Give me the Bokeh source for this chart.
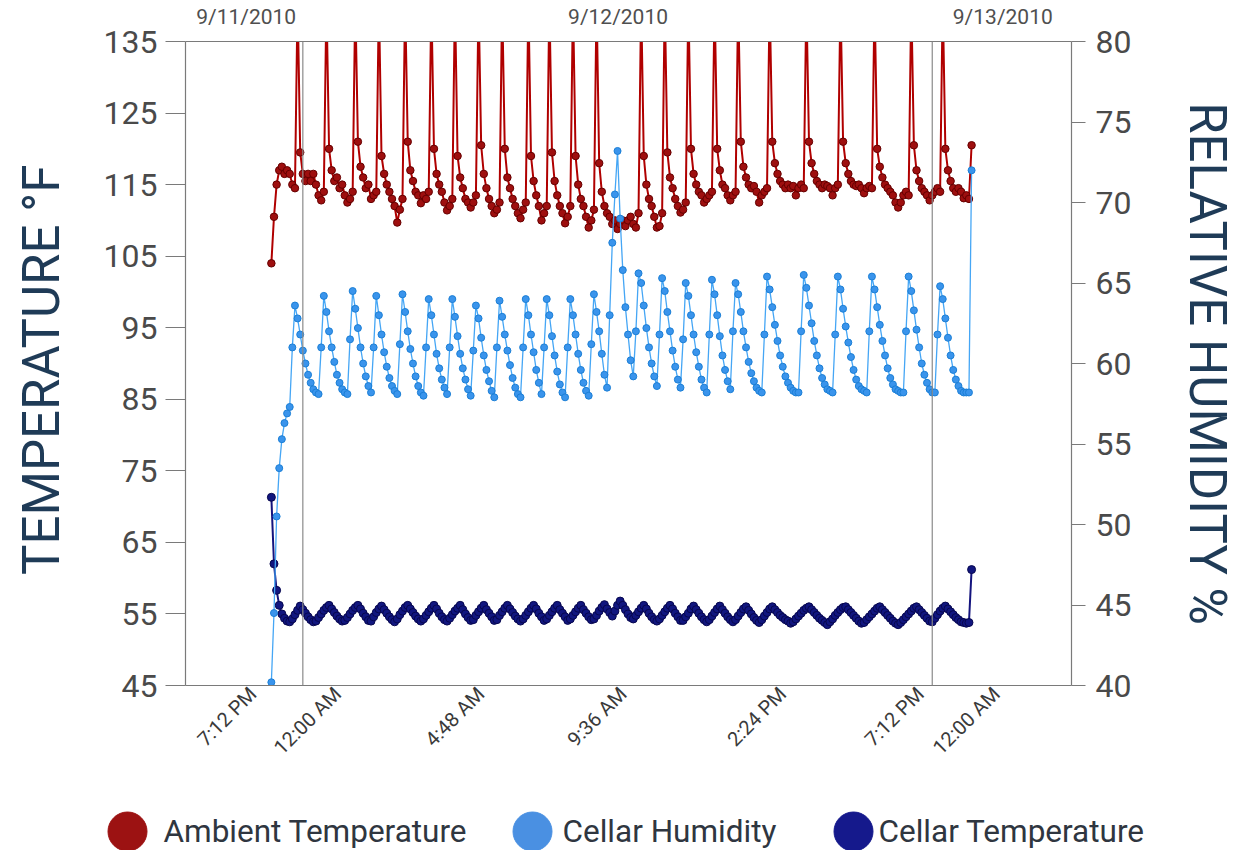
from math import pi

from bokeh.core.properties import value
from bokeh.embed import file_html
from bokeh.models import FixedTicker, LinearAxis, Range1d, Span
from bokeh.plotting import figure
from bokeh.resources import INLINE

# ---------------------------------------------------------------- data
# logger readings, hours relative to 12:00 AM on 9/12/2010, one every 6 min
START_HOUR = -1.2
STEP_HOURS = 0.1

ambient_temp = [
    104.0, 110.5, 115.0, 117.0, 117.5, 116.5, 117.0, 116.5, 115.0, 114.5,
    141, 119.5, 116.5, 115.5, 116.5, 115.5, 116.5, 115.0, 113.5, 112.8, 114.0,
    141, 120.0, 117.0, 115.5, 116.0, 114.5, 115.0, 113.5, 112.5, 113.0, 114.0,
    141, 121.0, 117.5, 116.0, 114.5, 115.0, 113.0, 113.5, 114.0,
    141, 119.0, 116.5, 115.0, 114.0, 113.0, 112.0, 109.7, 111.5, 113.0,
    141, 121.0, 117.0, 115.5, 114.0, 113.5, 112.4, 113.5, 113.0, 114.0,
    141, 120.0, 116.5, 115.0, 114.0, 112.5, 111.4, 112.0, 113.0,
    141, 119.0, 116.0, 114.5, 113.0, 112.5, 111.8, 112.5, 113.5,
    141, 120.5, 116.5, 114.5, 113.0, 112.0, 111.0, 111.5, 112.5,
    141, 120.0, 116.0, 114.5, 113.0, 112.0, 111.0, 110.3, 111.5, 112.5,
    141, 119.0, 115.5, 113.5, 112.0, 110.0, 111.0, 112.0,
    141, 119.5, 115.5, 113.5, 112.0, 111.0, 109.6, 110.5, 112.0,
    141, 119.0, 115.0, 113.0, 112.0, 110.5, 109.0, 110.0, 111.5,
    141, 118.0, 114.0, 112.0, 111.0, 110.5, 109.5, 110.0, 108.8, 109.5, 110.0,
    109.2, 110.0, 110.5, 109.5, 109.0, 111.0,
    141, 119.0, 115.0, 113.0, 112.0, 110.5, 109.0, 109.2, 111.0,
    141, 119.5, 116.0, 114.5, 113.0, 112.0, 111.1, 111.5, 112.5,
    141, 120.0, 116.5, 115.0, 114.0, 113.5, 112.5, 113.0, 113.5, 114.0,
    141, 120.0, 117.0, 115.0, 114.5, 113.5, 112.8, 113.5, 114.0,
    141, 121.0, 117.5, 116.0, 115.0, 114.5, 114.8, 114.0, 112.5, 113.5, 114.0, 114.5,
    141, 121.0, 118.0, 116.5, 115.5, 115.0, 114.5, 115.0, 114.5, 114.8, 113.5, 114.5,
    115.0, 114.5,
    141, 121.0, 118.0, 116.5, 115.5, 115.0, 114.5, 115.0, 114.8, 114.5, 113.5, 114.5,
    115.0,
    141, 121.0, 118.0, 116.5, 115.5, 115.0, 114.8, 115.0, 114.5, 113.8, 114.5, 114.8,
    114.5,
    141, 120.0, 117.5, 116.0, 115.0, 114.5, 114.0, 113.5, 112.5, 111.8, 112.5, 113.5,
    114.0, 113.5,
    141, 120.5, 117.0, 115.5, 114.5, 114.0, 113.5, 112.8, 113.5, 114.0, 114.5, 114.0,
    141, 120.0, 117.0, 115.5, 114.5, 114.0, 114.5, 114.0, 113.1, 113.5, 113.0, 120.5,
]

cellar_humidity = [
    40.2, 44.5, 50.5, 53.5, 55.3, 56.3, 56.9, 57.3,
    61.0, 63.6, 62.8, 61.8, 60.8, 60.0, 59.3, 58.8, 58.4, 58.2, 58.1,
    61.0, 64.2, 63.2, 62.0, 61.0, 60.1, 59.3, 58.8, 58.4, 58.2, 58.1,
    61.5, 64.5, 63.4, 62.2, 61.0, 60.0, 59.2, 58.6, 58.2,
    61.0, 64.2, 63.0, 61.8, 60.7, 59.8, 59.1, 58.6, 58.3, 58.1,
    61.2, 64.3, 63.2, 62.0, 60.9, 60.0, 59.2, 58.6, 58.2, 58.0,
    61.0, 64.0, 63.0, 61.8, 60.6, 59.7, 59.0, 58.5, 58.1,
    61.0, 64.0, 62.9, 61.7, 60.6, 59.7, 59.0, 58.4, 58.0,
    60.8, 63.6, 62.8, 61.6, 60.5, 59.6, 58.9, 58.3, 57.9,
    61.0, 63.9, 62.9, 61.8, 60.8, 59.9, 59.1, 58.5, 58.1, 57.9,
    61.0, 64.0, 63.0, 61.8, 60.7, 59.6, 58.8, 58.1,
    61.0, 64.0, 63.0, 61.7, 60.5, 59.5, 58.7, 58.2, 57.9,
    61.0, 64.0, 63.0, 61.8, 60.6, 59.6, 58.8, 58.3, 58.0,
    61.2, 64.3, 63.2, 62.0, 60.6, 59.3, 58.5, 63.0, 67.5, 70.5, 73.2, 69.0, 65.8,
    63.5, 61.8, 60.2, 59.2,
    62.0, 65.6, 65.0, 63.6, 62.2, 61.0, 60.0, 59.2, 58.6,
    61.8, 65.3, 64.5, 63.2, 62.0, 60.8, 59.8, 59.0, 58.5,
    61.5, 65.0, 64.2, 63.0, 61.8, 60.7, 59.8, 59.0, 58.5, 58.2,
    61.8, 65.2, 64.3, 63.0, 61.7, 60.5, 59.6, 58.9, 58.4,
    62.0, 65.0, 64.3, 63.2, 62.0, 61.0, 60.1, 59.4, 58.9, 58.5, 58.3, 58.2,
    61.8, 65.4, 64.6, 63.5, 62.4, 61.4, 60.5, 59.8, 59.2, 58.8, 58.5, 58.3, 58.2, 58.2,
    62.0, 65.5, 64.7, 63.6, 62.5, 61.4, 60.5, 59.7, 59.1, 58.7, 58.4, 58.3, 58.2,
    61.8, 65.4, 64.6, 63.4, 62.3, 61.3, 60.4, 59.6, 59.0, 58.6, 58.4, 58.3, 58.2,
    62.0, 65.4, 64.6, 63.5, 62.4, 61.4, 60.5, 59.7, 59.1, 58.7, 58.4, 58.3, 58.2, 58.2,
    62.0, 65.4, 64.5, 63.3, 62.1, 61.0, 60.0, 59.3, 58.8, 58.4, 58.2, 58.2,
    61.8, 64.8, 64.0, 62.8, 61.6, 60.5, 59.6, 59.0, 58.6, 58.3, 58.2, 58.2, 58.2, 72.0,
]

cellar_temp = [
    71.3, 62.0, 58.3, 56.2, 55.0, 54.4, 54.0, 53.9, 54.3, 54.9,
    55.5, 56.1, 55.6, 55.1, 54.6, 54.2, 53.9, 54.0, 54.5, 55.0,
    55.5, 55.9, 56.2, 55.7, 55.2, 54.7, 54.3, 54.0, 54.1, 54.5,
    55.0, 55.5, 55.9, 56.2, 55.7, 55.1, 54.6, 54.1, 54.0, 54.6,
    55.2, 55.7, 56.1, 55.6, 55.1, 54.6, 54.2, 53.9, 54.3, 54.9,
    55.4, 55.9, 56.2, 55.7, 55.2, 54.7, 54.3, 54.0, 54.3, 54.8,
    55.3, 55.8, 56.2, 55.7, 55.1, 54.6, 54.2, 54.0, 54.4, 54.9,
    55.4, 55.8, 56.2, 55.6, 55.0, 54.5, 54.1, 54.2, 54.8, 55.3,
    55.8, 56.2, 55.6, 55.1, 54.6, 54.1, 54.2, 54.8, 55.3, 55.8,
    56.2, 55.7, 55.2, 54.7, 54.3, 54.0, 54.3, 54.8, 55.3, 55.8,
    56.2, 55.7, 55.1, 54.6, 54.1, 54.3, 54.8, 55.3, 55.8, 56.2,
    55.6, 55.1, 54.6, 54.1, 54.3, 54.8, 55.3, 55.8, 56.2, 55.6,
    55.1, 54.6, 54.2, 54.3, 54.8, 55.4, 55.9, 56.3, 55.7, 55.2,
    54.7, 55.4, 56.2, 56.8, 56.2, 55.6, 55.0, 54.5, 54.3, 54.8,
    55.3, 55.8, 56.2, 55.7, 55.1, 54.6, 54.2, 54.0, 54.3, 54.8,
    55.3, 55.8, 56.2, 55.7, 55.1, 54.6, 54.1, 54.1, 54.6, 55.1,
    55.7, 56.1, 55.6, 55.1, 54.6, 54.2, 53.9, 54.2, 54.7, 55.2,
    55.7, 56.1, 55.6, 55.1, 54.6, 54.2, 53.9, 54.2, 54.7, 55.2,
    55.7, 56.0, 55.5, 55.0, 54.5, 54.1, 53.8, 54.2, 54.7, 55.2,
    55.7, 56.0, 55.6, 55.2, 54.8, 54.5, 54.2, 54.0, 53.7, 53.9,
    54.3, 54.7, 55.1, 55.5, 55.8, 56.0, 55.6, 55.2, 54.8, 54.4,
    54.1, 53.8, 53.5, 53.9, 54.3, 54.8, 55.2, 55.6, 55.9, 56.0,
    55.6, 55.2, 54.8, 54.4, 54.0, 53.7, 53.8, 54.2, 54.6, 55.0,
    55.4, 55.8, 56.0, 55.6, 55.2, 54.8, 54.4, 54.0, 53.7, 53.5,
    53.8, 54.2, 54.6, 55.0, 55.4, 55.8, 56.0, 55.6, 55.2, 54.8,
    54.4, 54.0, 53.9, 54.4, 54.9, 55.4, 55.8, 56.1, 55.7, 55.3,
    54.9, 54.5, 54.2, 53.9, 53.8, 53.7, 53.8, 61.2,
]

series_names = ["Ambient Temperature", "Cellar Humidity", "Cellar Temperature"]
legend_colors = ["#9c1212", "#4a90e2", "#15198c"]

temp_ticks = [45, 55, 65, 75, 85, 95, 105, 115, 125, 135]
humidity_ticks = [40, 45, 50, 55, 60, 65, 70, 75, 80]

time_tick_hours = [-1.9, 1.33, 6.79, 12.21, 18.3, 23.55, 26.45]
time_tick_labels = ["7:12 PM", "12:00 AM", "4:48 AM", "9:36 AM", "2:24 PM",
                    "7:12 PM", "12:00 AM"]
date_tick_hours = [-2.16, 12.02, 26.69]
date_tick_labels = ["9/11/2010", "9/12/2010", "9/13/2010"]
day_boundaries = [0, 24]

# legend strip layout, in pixels of the strip
legend_swatch_x = [127, 532, 853]
legend_text_x = [163, 562, 878]
LEGEND_Y = 19

# ---------------------------------------------------------------- figure
W, H = 1240, 772
p = figure(width=W, height=H, output_backend="svg", toolbar_location=None,
           x_range=Range1d(-4.474, 29.31), y_range=Range1d(45, 135),
           x_axis_location=None, y_axis_location=None,
           min_border_left=185, min_border_right=W - 1076,
           min_border_top=41, min_border_bottom=H - 685)
p.extra_y_ranges = {"hum": Range1d(40, 80)}
p.outline_line_color = None
p.background_fill_color = "white"
p.border_fill_color = "white"
p.grid.visible = False

AXIS_GREY = "#7a7a7a"
FONT = "Roboto"

left = LinearAxis(ticker=FixedTicker(ticks=temp_ticks),
                  axis_label="TEMPERATURE  °F")
right = LinearAxis(y_range_name="hum", ticker=FixedTicker(ticks=humidity_ticks),
                   axis_label="RELATIVE HUMIDITY %")
for ax, tick_out, standoff, title_standoff in ((left, 20, 8, 30), (right, 14, 10, 44)):
    ax.axis_line_color = AXIS_GREY
    ax.axis_line_width = 1.2
    ax.major_tick_line_color = AXIS_GREY
    ax.major_tick_line_width = 1.2
    ax.major_tick_out = tick_out
    ax.major_tick_in = 0
    ax.minor_tick_line_color = None
    ax.major_label_standoff = standoff
    ax.major_label_text_font = FONT
    ax.major_label_text_font_size = "32px"
    ax.major_label_text_color = "#4a4a4a"
    ax.axis_label_text_font = FONT
    ax.axis_label_text_font_size = "51px"
    ax.axis_label_text_font_style = "normal"
    ax.axis_label_text_color = "#1f3b57"
    ax.axis_label_standoff = title_standoff
p.add_layout(left, "left")
p.add_layout(right, "right")

bottom = LinearAxis(ticker=FixedTicker(ticks=time_tick_hours),
                    major_label_overrides=dict(zip(time_tick_hours, time_tick_labels)))
bottom.axis_line_color = AXIS_GREY
bottom.axis_line_width = 1.2
bottom.major_tick_line_color = None
bottom.major_tick_out = 0
bottom.major_tick_in = 0
bottom.minor_tick_line_color = None
bottom.minor_tick_out = 0
bottom.major_label_orientation = pi / 4
bottom.major_label_standoff = 5
bottom.major_label_text_font = FONT
bottom.major_label_text_font_size = "20px"
bottom.major_label_text_color = "#3a3a3a"
p.add_layout(bottom, "below")

top = LinearAxis(ticker=FixedTicker(ticks=date_tick_hours),
                 major_label_overrides=dict(zip(date_tick_hours, date_tick_labels)))
top.axis_line_color = AXIS_GREY
top.axis_line_width = 1.2
top.major_tick_line_color = None
top.minor_tick_line_color = None
top.major_label_standoff = 7
top.major_label_text_font = FONT
top.major_label_text_font_size = "21px"
top.major_label_text_color = "#4f4f4f"
p.add_layout(top, "above")

for h in day_boundaries:
    p.add_layout(Span(location=h, dimension="height", line_color="#8a8a8a",
                      line_width=1.2))


def hours(values):
    return [START_HOUR + STEP_HOURS * i for i in range(len(values))]


# ambient temperature
xa = hours(ambient_temp)
p.line(xa, ambient_temp, line_color="#b00000", line_width=2)
p.scatter(xa, ambient_temp, marker="circle", size=7.5, fill_color="#9e0f0f",
          line_color="#660000", line_width=1)

# cellar temperature
xc = hours(cellar_temp)
p.line(xc, cellar_temp, line_color="#14147e", line_width=2)
p.scatter(xc, cellar_temp, marker="circle", size=8, fill_color="#11167f",
          line_color="#07074f", line_width=1)

# cellar humidity (right axis)
xh = hours(cellar_humidity)
p.line(xh, cellar_humidity, line_color="#45a6f5", line_width=1.3, y_range_name="hum")
p.scatter(xh, cellar_humidity, marker="circle", size=7, fill_color="#3a94ec",
          line_color="#1b7fd6", line_width=1, y_range_name="hum")

# ---------------------------------------------------------------- legend strip
LEG_H = 78
leg = figure(width=W, height=LEG_H, output_backend="svg", toolbar_location=None,
             x_range=Range1d(0, W), y_range=Range1d(0, LEG_H),
             x_axis_location=None, y_axis_location=None, min_border=0)
leg.outline_line_color = None
leg.grid.visible = False
leg.scatter(x=legend_swatch_x, y=[LEGEND_Y] * 3, marker="circle", size=39,
            fill_color=legend_colors, line_color=legend_colors)
leg.text(x=legend_text_x, y=[LEGEND_Y] * 3, text=series_names,
         text_font=value(FONT), text_font_size="31.5px", text_color="#2f3640",
         text_baseline="middle", text_align="left")

open("out.html", "w").write(file_html([p, leg], INLINE))
